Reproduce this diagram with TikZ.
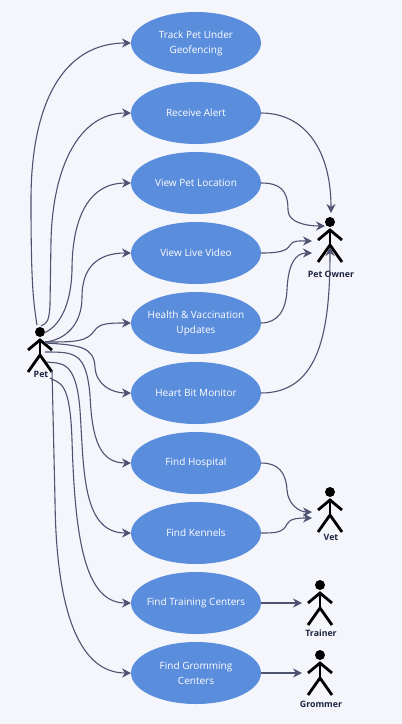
\documentclass[tikz,border=0pt]{standalone}
\usepackage{xcolor}
\usepackage{fontspec}
\setmainfont{Open Sans}
\usetikzlibrary{arrows.meta,positioning,shapes.geometric}
\definecolor{pagebg}{HTML}{F5F6FB}
\definecolor{casefill}{HTML}{5B8DDD}
\definecolor{linkcol}{HTML}{4F5270}
\definecolor{actortext}{HTML}{1B2340}
% name, x, y of the head, label, y of the label
\newcommand{\stickman}[5]{
  \node[actorbox] (#1) at (#2,#3+18) {};
  \fill (#2,#3) circle (5);
  \draw[limb] (#2-12,#3+18) -- (#2,#3+8) -- (#2+12,#3+18);
  \draw[limb] (#2,#3+7) -- (#2,#3+23);
  \draw[limb] (#2-12,#3+40) -- (#2,#3+23) -- (#2+12,#3+40);
  \node[actorlabel] (#1label) at (#2+1,#5) {#4};
}

\begin{document}
\begin{tikzpicture}[
    x=1pt, y=-1pt,
    node distance=8pt,
    usecase/.style={ellipse, fill=casefill, text=white, align=center, inner ysep=0pt, inner xsep=-10pt, outer sep=0pt, minimum width=130pt, minimum height=62pt, font=\fontsize{10}{15}\selectfont},
    actorbox/.style={minimum width=36pt, minimum height=54pt, inner sep=0pt, outer sep=0pt},
    actorlabel/.style={text=actortext, inner sep=0pt, font=\fontsize{8.8}{9}\selectfont\bfseries},
    limb/.style={line width=2.8pt},
    line/.style={-{Stealth[length=9pt,width=9pt,inset=3pt]}, linkcol, line width=1.1pt}
]
\useasboundingbox (0,0) rectangle (402,724);
\fill[pagebg] (0,0) rectangle (402,724);

\node[usecase] (track) at (196,43) {Track Pet Under\\Geofencing};
\node[usecase, below=of track] (alert) {Receive Alert};
\node[usecase, below=of alert] (location) {View Pet Location};
\node[usecase, below=of location] (video) {View Live Video};
\node[usecase, below=of video] (health) {Health \& Vaccination\\Updates};
\node[usecase, below=of health] (heart) {Heart Bit Monitor};
\node[usecase, below=of heart] (hospital) {Find Hospital};
\node[usecase, below=of hospital] (kennels) {Find Kennels};
\node[usecase, below=of kennels] (training) {Find Training Centers};
\node[usecase, below=of training] (gromming) {Find Gromming\\Centers};

\stickman{pet}{40}{332}{Pet}{374}
\stickman{owner}{330}{222}{Pet Owner}{274}
\stickman{vet}{330}{492}{Vet}{537}
\stickman{trainer}{320}{585}{Trainer}{633}
\stickman{grommer}{320}{655}{Grommer}{704}

% pet to the use cases
\draw[line] ([shift={(-3,-25)}]pet.center) .. controls (33,300) and (31,280) .. (31,200) .. controls (31,105) and (62,43) .. (track.west);
\draw[line] ([shift={(1,-24)}]pet.center) .. controls (47,323) and (49,322) .. (50,305) -- (51,240) .. controls (53,165) and (80,113) .. (alert.west);
\draw[line] ([shift={(4,-17)}]pet.center) .. controls (60,326) and (71,305) .. (72,270) .. controls (72,225) and (85,183) .. (location.west);
\draw[line] ([shift={(5,-8)}]pet.center) .. controls (65,340) and (82,325) .. (82,297) .. controls (82,270) and (95,253) .. (video.west);
\draw[line] ([shift={(5,-8)}]pet.center) .. controls (75,342) and (87,342) .. (95,330) .. controls (100,323) and (110,323) .. (health.west);
\draw[line] ([shift={(5,-7)}]pet.center) .. controls (80,345) and (94,347) .. (95,367) .. controls (96,385) and (112,393) .. (heart.west);
\draw[line] ([shift={(5,2)}]pet.center) .. controls (75,352) and (86,352) .. (90,395) .. controls (92,440) and (100,463) .. (hospital.west);
\draw[line] ([shift={(7,12)}]pet.center) .. controls (60,364) and (76,358) .. (80,410) .. controls (84,470) and (82,533) .. (kennels.west);
\draw[line] ([shift={(10,28)}]pet.center) .. controls (60,384) and (70,380) .. (72,440) .. controls (75,540) and (85,603) .. (training.west);
\draw[line] ([shift={(12,20)}]pet.center) -- (55,500) .. controls (56,600) and (75,673) .. (gromming.west);

% use cases to the other actors
\draw[line] (alert.east) .. controls (305,113) and (331,150) .. ([shift={(1,-27)}]owner.center);
\draw[line] (location.east) .. controls (280,183) and (288,190) .. (288,210) .. controls (288,222) and (305,226) .. ([shift={(-5,-14)}]owner.center);
\draw[line] (video.east) .. controls (275,253) and (287,252) .. (290,245) .. controls (293,240) and (300,241) .. ([shift={(-18,1)}]owner.center);
\draw[line] (health.east) .. controls (278,323) and (286,310) .. (287,290) .. controls (288,265) and (295,253) .. ([shift={(-18,13)}]owner.center);
\draw[line] (heart.east) .. controls (320,393) and (330,330) .. ([shift={(0,7)}]owner.center);
\draw[line] (hospital.east) .. controls (278,463) and (286,472) .. (287,490) .. controls (288,505) and (300,512) .. ([shift={(-18,2)}]vet.center);
\draw[line] (kennels.east) .. controls (275,533) and (283,533) .. (287,524) .. controls (290,518) and (300,518) .. ([shift={(-18,8)}]vet.center);
\draw[line] (training.east) -- (trainer.west);
\draw[line] (gromming.east) -- (grommer.west);
\end{tikzpicture}
\end{document}
